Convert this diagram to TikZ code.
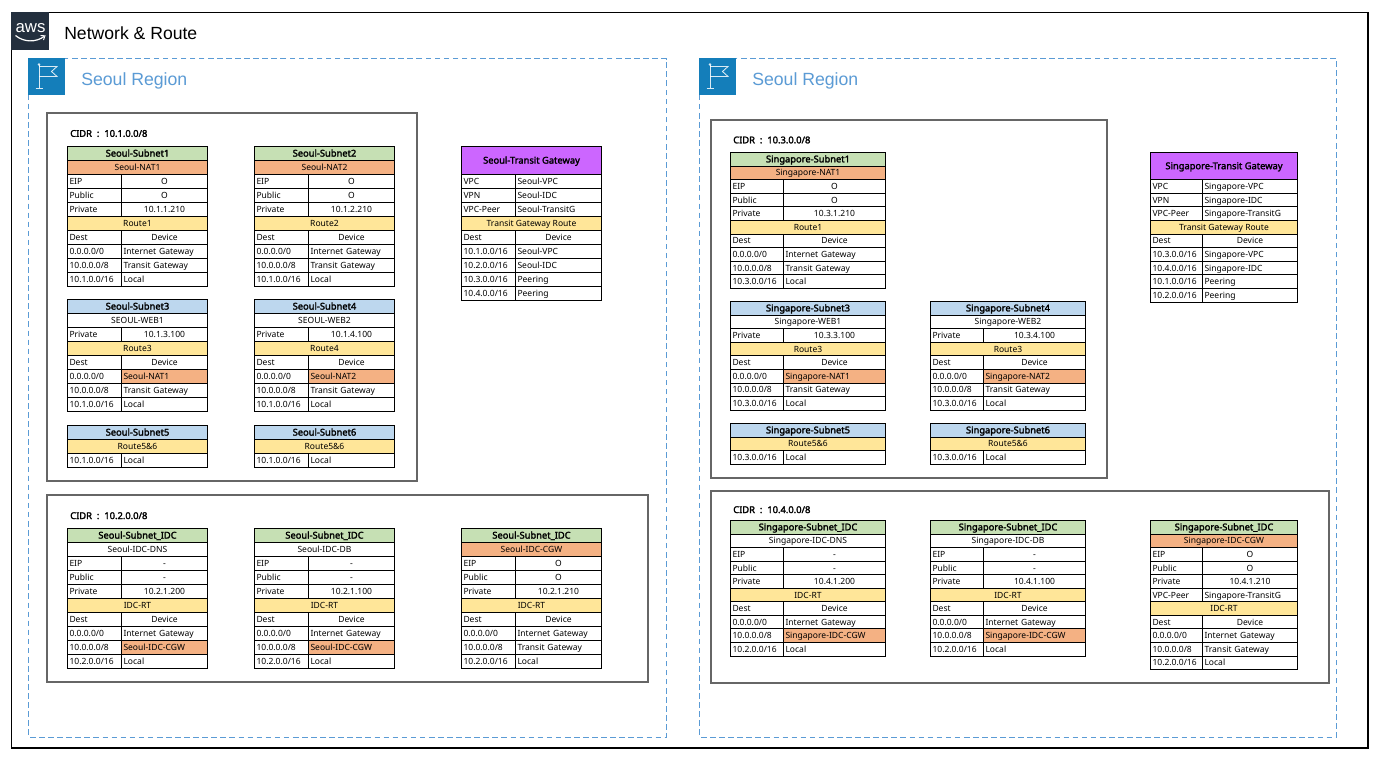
\documentclass[tikz,border=0pt]{standalone}
\usepackage{fontspec}
\setmainfont{Noto Sans}
\newfontfamily\arialfont{Liberation Sans}
\newfontfamily\heavyfont{Noto Sans}[FakeBold=2.2]
\definecolor{cgreen}{HTML}{C6E0B4}
\definecolor{corange}{HTML}{F4B183}
\definecolor{cblue}{HTML}{BDD7EE}
\definecolor{cyellow}{HTML}{FFE699}
\definecolor{cpurple}{HTML}{CC66FF}
\definecolor{cregion}{HTML}{5B9BD5}
\definecolor{cicon}{HTML}{147EBA}
\definecolor{cawslogo}{HTML}{232F3E}
\definecolor{cvpc}{HTML}{666666}
\tikzset{
  x=0.75pt,y=-0.75pt,
  cellbox/.style={draw=black,line width=0.75pt,rectangle,inner sep=0pt,outer sep=0pt,
    font=\fontsize{6.4}{7}\selectfont,text height=5.5pt,text depth=0.9pt},
  framebox/.style={draw=black,line width=0.8pt},
  vpcbox/.style={draw=cvpc,line width=1.1pt,fill=white},
  regionbox/.style={draw=cregion,line width=0.75pt,dash pattern=on 4.2pt off 2.6pt},
  regiontext/.style={text=cregion,anchor=west,inner sep=0pt,font=\arialfont\fontsize{13.25}{15}\selectfont},
  cidrtext/.style={anchor=west,inner sep=0pt,font=\heavyfont\fontsize{7}{8}\selectfont},
  flagline/.style={draw=white,line width=0.65pt,opacity=.85},
}
\newcount\rowno
% name, x-left, y-top, x-right, x-split, row height
\newcommand\tbl[6]{\xdef\tn{#1}\xdef\tl{#2}\xdef\ty{#3}\xdef\tr{#4}\xdef\ts{#5}\xdef\th{#6}\global\rowno=0 }
\newcommand\stepy[1]{\pgfmathsetmacro\tmpy{\ty+#1*\th}\xdef\ty{\tmpy}\global\advance\rowno by 1 }
% one cell: node suffix, x0, x1, height factor, fill, align(l/c), options, text
\newcommand\cell[8]{%
  \pgfmathsetmacro\cw{(#3-#2)*0.75}\pgfmathsetmacro\ch{#4*\th*0.75}%
  \pgfmathsetmacro\cx{(#2+#3)/2}\pgfmathsetmacro\cy{\ty+#4*\th/2}%
  \if#6l\relax
    \node[cellbox,fill=#5,minimum height=\ch pt,text width=\cw pt-3pt,inner xsep=1.5pt,align=left,#7] (\tn-\the\rowno-#1) at (\cx,\cy) {#8};%
  \else
    \node[cellbox,fill=#5,minimum height=\ch pt,minimum width=\cw pt,#7] (\tn-\the\rowno-#1) at (\cx,\cy) {#8};%
  \fi}
\newcommand\rowtitle[2]{\cell{t}{\tl}{\tr}{1}{#1}{c}{font=\heavyfont\fontsize{7}{8}\selectfont}{#2}\stepy{1}}
\newcommand\rowtall[2]{\cell{t}{\tl}{\tr}{2}{#1}{c}{font=\heavyfont\fontsize{7}{8}\selectfont}{#2}\stepy{2}}
\newcommand\rowspan[2]{\cell{t}{\tl}{\tr}{1}{#1}{c}{}{#2}\stepy{1}}
\newcommand\rowcc[2]{\cell{a}{\tl}{\ts}{1}{white}{l}{}{#1}\cell{b}{\ts}{\tr}{1}{white}{c}{}{#2}\stepy{1}}
\newcommand\rowll[2]{\cell{a}{\tl}{\ts}{1}{white}{l}{}{#1}\cell{b}{\ts}{\tr}{1}{white}{l}{}{#2}\stepy{1}}
\newcommand\rowhl[2]{\cell{a}{\tl}{\ts}{1}{white}{l}{}{#1}\cell{b}{\ts}{\tr}{1}{corange}{l}{}{#2}\stepy{1}}
\newcommand\rowsrc[1]{\rowspan{cyellow}{#1}\rowcc{Dest}{Device}}
\newcommand\ipblock[3]{\rowcc{EIP}{#1}\rowcc{Public}{#2}\rowcc{Private}{#3}}
\newcommand\cidrtxt[1]{CIDR\hspace{1.9pt} :\hspace{1.9pt} #1}
% flag icon at x,y
\newcommand\regionicon[3]{%
  \node[fill=cicon,minimum width=27.4pt,minimum height=27.4pt,inner sep=0pt,anchor=north west] (#3) at (#1,#2) {};
  \begin{scope}[shift={(#1,#2)}]
    \draw[flagline] (11,7)--(11,30) (7.5,30)--(15,30);
    \draw[flagline] (11,8.5)--(29,8.5)--(23.5,13.5)--(29,18.5)--(11,18.5);
    \fill[white,opacity=.85] (11,6.5) circle (1.1pt);
  \end{scope}}
\begin{document}
\begin{tikzpicture}
\useasboundingbox (0,0) rectangle (1377,761);
\fill[white] (0,0) rectangle (1377,761);
\draw[framebox] (11.5,12.5) rectangle (1368,748);
\node[fill=cawslogo,minimum width=28.5pt,minimum height=28.5pt,inner sep=0pt,anchor=north west] (logo) at (11,12) {};
\node[text=white,inner sep=0pt,font=\arialfont\fontsize{12.6}{13}\selectfont] (awstext) at (30.5,28) {aws};
\draw[white,line width=0.9pt] (15.5,35.5) .. controls (24,42.5) and (36,42.5) .. (44,36.5);
\draw[white,line width=0.7pt] (40.5,35.5)--(45,35.8)--(43.5,40);
\node[anchor=west,inner sep=0pt,font=\arialfont\fontsize{13.2}{15}\selectfont] (title) at (64,33.5) {Network \& Route};

% Regions
\draw[regionbox] (28.5,58.5) rectangle (666.5,737);
\draw[regionbox] (699.5,58.5) rectangle (1336.5,737);
\regionicon{28}{58}{iconA}
\regionicon{699}{58}{iconB}
\node[regiontext] (regA) at (81,81) {Seoul Region};
\node[regiontext] (regB) at (752,81) {Seoul Region};

% VPC boxes
\draw[vpcbox] (47,113) rectangle (417,481);
\draw[vpcbox] (47,495) rectangle (648,682);
\draw[vpcbox] (711,120) rectangle (1107,478);
\draw[vpcbox] (711,491) rectangle (1329,683);
\node[cidrtext] (cidrA) at (70,133.5) {\cidrtxt{10.1.0.0/8}};
\node[cidrtext] (cidrB) at (70,515.7) {\cidrtxt{10.2.0.0/8}};
\node[cidrtext] (cidrC) at (733,140) {\cidrtxt{10.3.0.0/8}};
\node[cidrtext] (cidrD) at (733,509.7) {\cidrtxt{10.4.0.0/8}};

% ---- Seoul
\tbl{sa}{67.5}{146.5}{207.5}{121.5}{14}
\rowtitle{cgreen}{Seoul-Subnet1}\rowspan{corange}{Seoul-NAT1}\ipblock{O}{O}{10.1.1.210}\rowsrc{Route1}
\rowll{0.0.0.0/0}{Internet Gateway}\rowll{10.0.0.0/8}{Transit Gateway}\rowll{10.1.0.0/16}{Local}
\tbl{sb}{254.5}{146.5}{394.5}{308.5}{14}
\rowtitle{cgreen}{Seoul-Subnet2}\rowspan{corange}{Seoul-NAT2}\ipblock{O}{O}{10.1.2.210}\rowsrc{Route2}
\rowll{0.0.0.0/0}{Internet Gateway}\rowll{10.0.0.0/8}{Transit Gateway}\rowll{10.1.0.0/16}{Local}
\tbl{sc}{67.5}{299.5}{207.5}{121.5}{14}
\rowtitle{cblue}{Seoul-Subnet3}\rowspan{white}{SEOUL-WEB1}\rowcc{Private}{10.1.3.100}\rowsrc{Route3}
\rowhl{0.0.0.0/0}{Seoul-NAT1}\rowll{10.0.0.0/8}{Transit Gateway}\rowll{10.1.0.0/16}{Local}
\tbl{sd}{254.5}{299.5}{394.5}{308.5}{14}
\rowtitle{cblue}{Seoul-Subnet4}\rowspan{white}{SEOUL-WEB2}\rowcc{Private}{10.1.4.100}\rowsrc{Route4}
\rowhl{0.0.0.0/0}{Seoul-NAT2}\rowll{10.0.0.0/8}{Transit Gateway}\rowll{10.1.0.0/16}{Local}
\tbl{se}{67.5}{425.5}{207.5}{121.5}{14}
\rowtitle{cblue}{Seoul-Subnet5}\rowspan{cyellow}{Route5\&6}\rowll{10.1.0.0/16}{Local}
\tbl{sf}{254.5}{425.5}{394.5}{308.5}{14}
\rowtitle{cblue}{Seoul-Subnet6}\rowspan{cyellow}{Route5\&6}\rowll{10.1.0.0/16}{Local}
\tbl{sg}{461.5}{146.5}{601.5}{515.5}{14}
\rowtall{cpurple}{Seoul-Transit Gateway}\rowll{VPC}{Seoul-VPC}\rowll{VPN}{Seoul-IDC}\rowll{VPC-Peer}{Seoul-TransitG}
\rowsrc{Transit Gateway Route}
\rowll{10.1.0.0/16}{Seoul-VPC}\rowll{10.2.0.0/16}{Seoul-IDC}\rowll{10.3.0.0/16}{Peering}\rowll{10.4.0.0/16}{Peering}
\tbl{sh}{67.5}{528.5}{207.5}{121.5}{14}
\rowtitle{cgreen}{Seoul-Subnet\_IDC}\rowspan{white}{Seoul-IDC-DNS}\ipblock{-}{-}{10.2.1.200}\rowsrc{IDC-RT}
\rowll{0.0.0.0/0}{Internet Gateway}\rowhl{10.0.0.0/8}{Seoul-IDC-CGW}\rowll{10.2.0.0/16}{Local}
\tbl{si}{254.5}{528.5}{394.5}{308.5}{14}
\rowtitle{cgreen}{Seoul-Subnet\_IDC}\rowspan{white}{Seoul-IDC-DB}\ipblock{-}{-}{10.2.1.100}\rowsrc{IDC-RT}
\rowll{0.0.0.0/0}{Internet Gateway}\rowhl{10.0.0.0/8}{Seoul-IDC-CGW}\rowll{10.2.0.0/16}{Local}
\tbl{sj}{461.5}{528.5}{601.5}{515.5}{14}
\rowtitle{cgreen}{Seoul-Subnet\_IDC}\rowspan{corange}{Seoul-IDC-CGW}\ipblock{O}{O}{10.2.1.210}\rowsrc{IDC-RT}
\rowll{0.0.0.0/0}{Internet Gateway}\rowll{10.0.0.0/8}{Transit Gateway}\rowll{10.2.0.0/16}{Local}

% ---- Singapore
\tbl{ga}{730.5}{152.5}{885.5}{783.5}{13.6}
\rowtitle{cgreen}{Singapore-Subnet1}\rowspan{corange}{Singapore-NAT1}\ipblock{O}{O}{10.3.1.210}\rowsrc{Route1}
\rowll{0.0.0.0/0}{Internet Gateway}\rowll{10.0.0.0/8}{Transit Gateway}\rowll{10.3.0.0/16}{Local}
\tbl{gc}{730.5}{301.5}{885.5}{783.5}{13.6}
\rowtitle{cblue}{Singapore-Subnet3}\rowspan{white}{Singapore-WEB1}\rowcc{Private}{10.3.3.100}\rowsrc{Route3}
\rowhl{0.0.0.0/0}{Singapore-NAT1}\rowll{10.0.0.0/8}{Transit Gateway}\rowll{10.3.0.0/16}{Local}
\tbl{gd}{930.5}{301.5}{1085.5}{983.5}{13.6}
\rowtitle{cblue}{Singapore-Subnet4}\rowspan{white}{Singapore-WEB2}\rowcc{Private}{10.3.4.100}\rowsrc{Route3}
\rowhl{0.0.0.0/0}{Singapore-NAT2}\rowll{10.0.0.0/8}{Transit Gateway}\rowll{10.3.0.0/16}{Local}
\tbl{ge}{730.5}{423.5}{885.5}{783.5}{13.6}
\rowtitle{cblue}{Singapore-Subnet5}\rowspan{cyellow}{Route5\&6}\rowll{10.3.0.0/16}{Local}
\tbl{gf}{930.5}{423.5}{1085.5}{983.5}{13.6}
\rowtitle{cblue}{Singapore-Subnet6}\rowspan{cyellow}{Route5\&6}\rowll{10.3.0.0/16}{Local}
\tbl{gg}{1150.5}{152.5}{1297.5}{1202.5}{13.6}
\rowtall{cpurple}{Singapore-Transit Gateway}\rowll{VPC}{Singapore-VPC}\rowll{VPN}{Singapore-IDC}\rowll{VPC-Peer}{Singapore-TransitG}
\rowsrc{Transit Gateway Route}
\rowll{10.3.0.0/16}{Singapore-VPC}\rowll{10.4.0.0/16}{Singapore-IDC}\rowll{10.1.0.0/16}{Peering}\rowll{10.2.0.0/16}{Peering}
\tbl{gh}{730.5}{520.5}{885.5}{783.5}{13.55}
\rowtitle{cgreen}{Singapore-Subnet\_IDC}\rowspan{white}{Singapore-IDC-DNS}\ipblock{-}{-}{10.4.1.200}\rowsrc{IDC-RT}
\rowll{0.0.0.0/0}{Internet Gateway}\rowhl{10.0.0.0/8}{Singapore-IDC-CGW}\rowll{10.2.0.0/16}{Local}
\tbl{gi}{930.5}{520.5}{1085.5}{983.5}{13.55}
\rowtitle{cgreen}{Singapore-Subnet\_IDC}\rowspan{white}{Singapore-IDC-DB}\ipblock{-}{-}{10.4.1.100}\rowsrc{IDC-RT}
\rowll{0.0.0.0/0}{Internet Gateway}\rowhl{10.0.0.0/8}{Singapore-IDC-CGW}\rowll{10.2.0.0/16}{Local}
\tbl{gj}{1150.5}{520.5}{1297.5}{1202.5}{13.55}
\rowtitle{cgreen}{Singapore-Subnet\_IDC}\rowspan{corange}{Singapore-IDC-CGW}\ipblock{O}{O}{10.4.1.210}\rowll{VPC-Peer}{Singapore-TransitG}\rowsrc{IDC-RT}
\rowll{0.0.0.0/0}{Internet Gateway}\rowll{10.0.0.0/8}{Transit Gateway}\rowll{10.2.0.0/16}{Local}
\end{tikzpicture}
\end{document}
